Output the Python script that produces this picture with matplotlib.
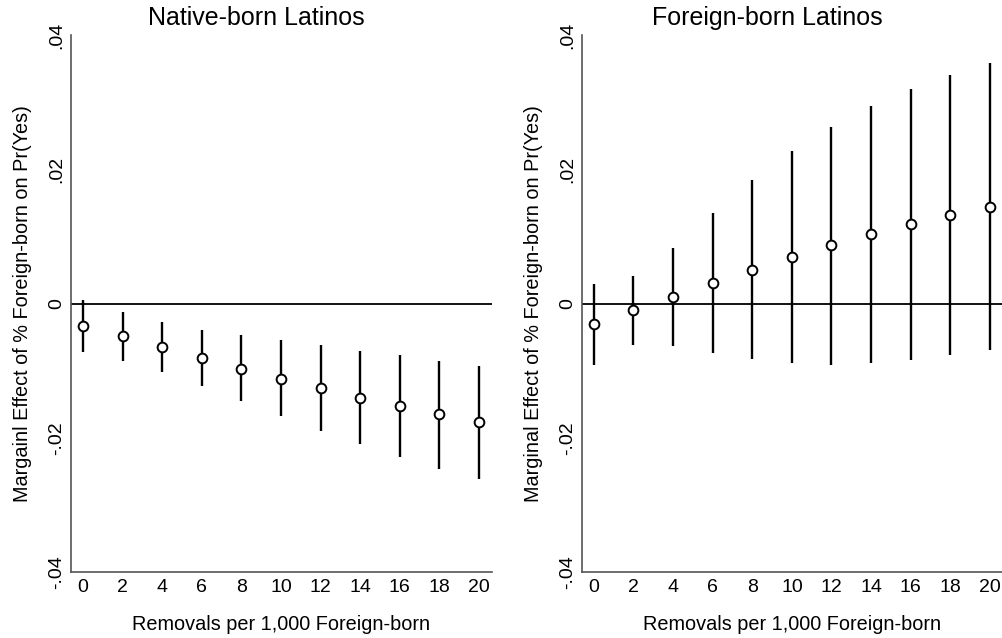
import matplotlib
matplotlib.use("Agg")
import matplotlib.pyplot as plt
import numpy as np

plt.rcParams['font.family'] = ['Liberation Sans', 'DejaVu Sans']

removals = [0, 2, 4, 6, 8, 10, 12, 14, 16, 18, 20]

native_est = [-0.0033, -0.0049, -0.0065, -0.0081, -0.0097, -0.0112, -0.0126, -0.0140, -0.0153, -0.0165, -0.0177]
native_lo = [-0.0072, -0.0085, -0.0102, -0.0123, -0.0145, -0.0168, -0.0190, -0.0210, -0.0229, -0.0246, -0.0261]
native_hi = [0.0006, -0.0013, -0.0027, -0.0039, -0.0047, -0.0055, -0.0062, -0.0070, -0.0077, -0.0085, -0.0093]

foreign_est = [-0.0031, -0.0010, 0.0010, 0.0030, 0.0050, 0.0069, 0.0087, 0.0103, 0.0118, 0.0132, 0.0144]
foreign_lo = [-0.0092, -0.0062, -0.0063, -0.0074, -0.0083, -0.0089, -0.0091, -0.0089, -0.0084, -0.0077, -0.0069]
foreign_hi = [0.0029, 0.0041, 0.0083, 0.0135, 0.0184, 0.0227, 0.0263, 0.0294, 0.0319, 0.0340, 0.0359]

titles = ["Native-born Latinos", "Foreign-born Latinos"]
ylabels = ["Margainl Effect of % Foreign-born on Pr(Yes)",
           "Marginal Effect of % Foreign-born on Pr(Yes)"]
xlabel = "Removals per 1,000 Foreign-born"
yticks = [-0.04, -0.02, 0, 0.02, 0.04]
yticklabels = ["-.04", "-.02", "0", ".02", ".04"]

fig = plt.figure(figsize=(10.02, 6.38), dpi=100)
ax1 = fig.add_axes([0.0709, 0.1034, 0.420, 0.8417])
ax2 = fig.add_axes([0.5808, 0.1034, 0.420, 0.8417])

panels = [(ax1, native_est, native_lo, native_hi),
          (ax2, foreign_est, foreign_lo, foreign_hi)]
title_x = [0.2555, 0.7655]

for i, (ax, est, lo, hi) in enumerate(panels):
    ax.axhline(0, color='black', lw=1.3, zorder=1)
    ax.vlines(removals, lo, hi, color='black', lw=1.7, zorder=2)
    ax.plot(removals, est, 'o', mfc='white', mec='black', mew=1.4, ms=7, zorder=3)
    ax.set_xlim(-0.6, 20.65)
    ax.set_ylim(-0.04, 0.04)
    ax.set_xticks(removals)
    ax.set_yticks(yticks)
    ax.set_yticklabels(yticklabels, rotation=90, va='center')
    ax.tick_params(length=0, labelsize=14, pad=5)
    ax.tick_params(axis='y', pad=4)
    for s in ['top', 'right']:
        ax.spines[s].set_visible(False)
    for s in ['left', 'bottom']:
        ax.spines[s].set_color('#555555')
        ax.spines[s].set_linewidth(1.2)
    fig.text(title_x[i], 1 - 18 / 638, titles[i], fontsize=18,
             ha='center', va='center')
    ax.set_xlabel(xlabel, fontsize=14.3, labelpad=14)
    ax.set_ylabel(ylabels[i], fontsize=14.3, labelpad=12)

fig.savefig("out.png", dpi=100)
